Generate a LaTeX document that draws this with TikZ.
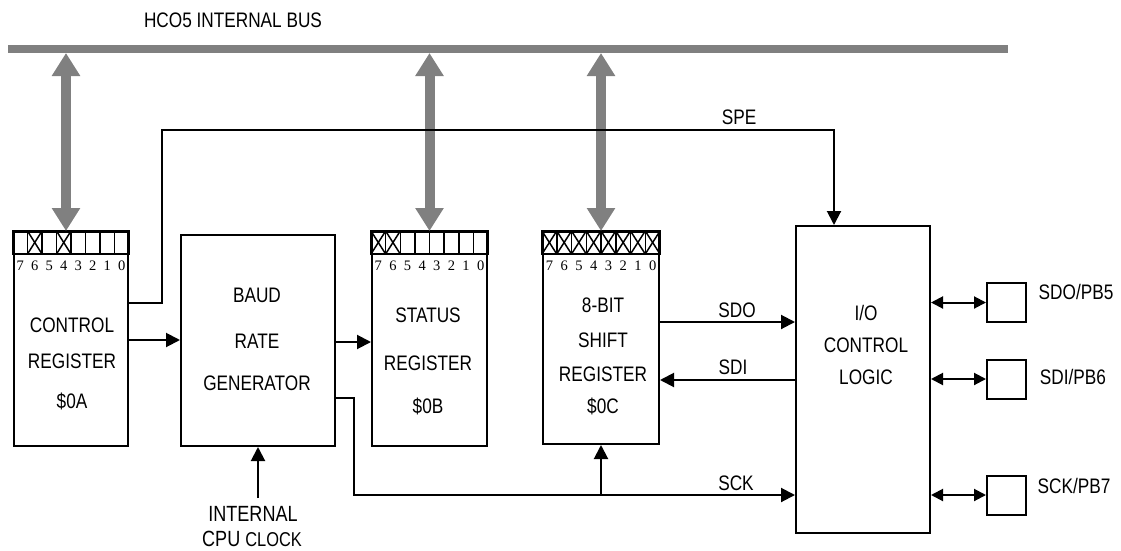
\documentclass[tikz,border=0pt]{standalone}
\usepackage{fontspec}
\setmainfont{Liberation Sans}[FakeStretch=0.82]
\newfontfamily\digitfont{Liberation Serif}
\usetikzlibrary{arrows.meta,calc}
\definecolor{busgrey}{RGB}{128,128,128}
\newcommand\bitrow[2]{%
  \foreach \i in {0,...,7}{%
    \pgfmathsetmacro\fa{\i/8}%
    \pgfmathsetmacro\fb{(\i+1)/8}%
    \pgfmathsetmacro\fc{(\i+0.5)/8}%
    \pgfmathtruncatemacro\dd{7-\i}%
    \draw[cell] ($(#1.north west)!\fa!(#1.north east)$) rectangle ($(#1.north west)!\fb!(#1.north east)+(0,23)$);
    \node[digit] at ($(#1.north west)!\fc!(#1.north east)+(0,35)$) {\dd};
  }%
  \foreach \i in {#2}{%
    \pgfmathsetmacro\fa{\i/8}%
    \pgfmathsetmacro\fb{(\i+1)/8}%
    \draw[cell] ($(#1.north west)!\fa!(#1.north east)$) -- ($(#1.north west)!\fb!(#1.north east)+(0,23)$);
    \draw[cell] ($(#1.north west)!\fa!(#1.north east)+(0,23)$) -- ($(#1.north west)!\fb!(#1.north east)$);
  }%
  \draw[cell] ($(#1.north west)+(0,23)$) -- ($(#1.north east)+(0,23)$);
}
\begin{document}
\begin{tikzpicture}[x=1pt,y=-1pt,
  blk/.style={draw, line width=2pt, rectangle, inner sep=0pt},
  lbl/.style={font=\fontsize{21}{21}\selectfont, inner sep=0pt},
  digit/.style={font=\digitfont\fontsize{14.5}{14.5}\selectfont, inner sep=0pt},
  cell/.style={line width=1.5pt},
  wire/.style={line width=2pt},
  arr/.style={wire, -{Triangle[length=14pt,width=14pt]}},
  pinarr/.style={wire, {Triangle[length=12pt,width=12pt]}-{Triangle[length=12pt,width=12pt]}},
  busarr/.style={draw=busgrey, line width=10pt, {Triangle[length=23pt,width=27pt]}-{Triangle[length=23pt,width=27pt]}},
]
\useasboundingbox (0,0) rectangle (1121,551);
% bus
\coordinate (busL) at (8,49);
\coordinate (busR) at (1008,49);
\draw[busgrey, line width=8pt] (busL) -- (busR);
\node[lbl] (buslbl) at (233,20) {HCO5 INTERNAL BUS};

% blocks
\node[blk, minimum width=114pt, minimum height=214pt] (ctrl) at (71,339) {};
\node[blk, minimum width=154pt, minimum height=211pt] (baud) at (258,340.5) {};
\node[blk, minimum width=115pt, minimum height=214pt] (stat) at (429.5,339) {};
\node[blk, minimum width=116pt, minimum height=212pt] (shift) at (601,338) {};
\node[blk, minimum width=134pt, minimum height=307pt] (io) at (863,379.5) {};
\node[blk, minimum width=39pt, minimum height=39pt] (p5) at (1006.5,302.5) {};
\node[blk, minimum width=39pt, minimum height=39pt] (p6) at (1006.5,379) {};
\node[blk, minimum width=39pt, minimum height=39pt] (p7) at (1006.5,495) {};

\bitrow{ctrl}{1,3}
\bitrow{stat}{0,1}
\bitrow{shift}{0,1,2,3,4,5,6,7}

% texts
\node[lbl] (t1) at (72,325) {CONTROL};
\node[lbl] (t2) at (72,361) {REGISTER};
\node[lbl] (t3) at (72,401) {\$0A};
\node[lbl] (t4) at (257,295) {BAUD};
\node[lbl] (t5) at (257,341) {RATE};
\node[lbl] (t6) at (257,383) {GENERATOR};
\node[lbl] (t7) at (428,315) {STATUS};
\node[lbl] (t8) at (428,363) {REGISTER};
\node[lbl] (t9) at (428,406) {\$0B};
\node[lbl] (t10) at (603,305) {8-BIT};
\node[lbl] (t11) at (603,340) {SHIFT};
\node[lbl] (t12) at (603,374) {REGISTER};
\node[lbl] (t13) at (603,406) {\$0C};
\node[lbl] (t14) at (866,313) {I/O};
\node[lbl] (t15) at (866,345) {CONTROL};
\node[lbl] (t16) at (866,377) {LOGIC};
\node[lbl] (p5l) at (1076,292) {SDO/PB5};
\node[lbl] (p6l) at (1073,377) {SDI/PB6};
\node[lbl] (p7l) at (1074,486) {SCK/PB7};
\node[lbl] (spel) at (739,117) {SPE};
\node[lbl] (sdol) at (737,310) {SDO};
\node[lbl] (sdil) at (733,367) {SDI};
\node[lbl] (sckl) at (736,483) {SCK};
\node[lbl, font=\fontsize{22}{22}\selectfont] (clk1) at (253,514) {INTERNAL};
\node[lbl, font=\fontsize{22}{22}\selectfont] (clk2) at (252,539) {CPU {\fontsize{20}{20}\selectfont CLOCK}};
\coordinate (clksrc) at (258,498);

% bus arrows
\draw[busarr] (ctrl.north -| 66,0) -- (66,53);
\draw[busarr] (stat.north) -- (stat.north |- 0,53);
\draw[busarr] (shift.north) -- (shift.north |- 0,53);

% connectors
\draw[arr] (ctrl.east |- 0,340) -- (baud.west |- 0,340);
\draw[arr] (baud.east |- 0,342) -- (stat.west |- 0,342);
\draw[arr] (ctrl.east |- 0,303) -- (162,303) -- (162,130) -- (834,130) -- (io.north -| 834,0);
\coordinate (sckj) at (601,495);
\draw[arr] (baud.east |- 0,398) -- (354,398) -- (354,495) -- (io.west |- 0,495);
\draw[arr] (sckj) -- (shift.south);
\draw[arr] (shift.east |- 0,322) -- (io.west |- 0,322);
\draw[arr] (io.west |- 0,380) -- (shift.east |- 0,380);
\draw[arr] (clksrc) -- (baud.south -| clksrc);
\draw[pinarr] (io.east |- p5.west) -- (p5.west);
\draw[pinarr] (io.east |- p6.west) -- (p6.west);
\draw[pinarr] (io.east |- p7.west) -- (p7.west);
\end{tikzpicture}
\end{document}
